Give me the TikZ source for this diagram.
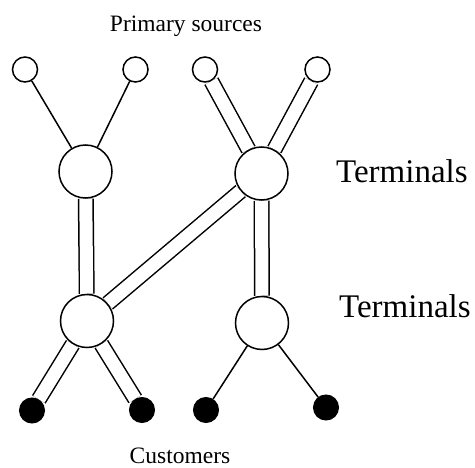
\documentclass[tikz,border=0pt]{standalone}
\usepackage{fontspec}
\setmainfont{Liberation Serif}
\usetikzlibrary{backgrounds}
\begin{document}
\begin{tikzpicture}[x=1pt,y=-1pt,
  src/.style={circle,draw,line width=1.5pt,fill=white,minimum size=25pt,inner sep=0pt},
  term/.style={circle,draw,line width=1.5pt,fill=white,minimum size=53pt,inner sep=0pt},
  cust/.style={circle,draw,line width=1pt,fill=black,minimum size=25pt,inner sep=0pt},
  single/.style={line width=1.5pt},
  twin/.style={line width=1.5pt,double=white,double distance=13pt},
  lbl/.style={font=\fontsize{23.5}{25}\selectfont,inner sep=0pt},
  biglbl/.style={font=\fontsize{33}{35}\selectfont,inner sep=0pt}]
\useasboundingbox (0,0) rectangle (475,468);
\node[src] (s1) at (25,69.5) {};
\node[src] (s2) at (135.5,69.5) {};
\node[src] (s3) at (205,69.5) {};
\node[src] (s4) at (317.5,69.5) {};
\node[term] (t1) at (85.5,171.5) {};
\node[term] (t2) at (261.5,173.5) {};
\node[term] (t3) at (87,321) {};
\node[term] (t4) at (262,323) {};
\node[cust] (d1) at (32,410.5) {};
\node[cust] (d2) at (142,410) {};
\node[cust] (d3) at (206,410) {};
\node[cust] (d4) at (326,407.5) {};
\begin{pgfonlayer}{background}
\draw[single] (s1) -- (t1);
\draw[single] (s2) -- (t1);
\draw[twin] (s3) -- (t2);
\draw[twin] (s4) -- (t2);
\draw[twin] (t1) -- (t3);
\draw[twin] (t2) -- (t4);
\draw[twin] (t2) -- (t3);
\draw[twin] (t3) -- (d1);
\draw[twin] (t3) -- (d2);
\draw[single] (t4) -- (d3);
\draw[single] (t4) -- (d4);
\end{pgfonlayer}
\node[lbl,anchor=base] (ps) at (186,32) {Primary sources};
\node[biglbl,anchor=base west] (tl1) at (336,183) {Terminals};
\node[biglbl,anchor=base west] (tl2) at (339,318) {Terminals};
\node[lbl,anchor=base] (cu) at (180,464) {Customers};
\end{tikzpicture}
\end{document}
